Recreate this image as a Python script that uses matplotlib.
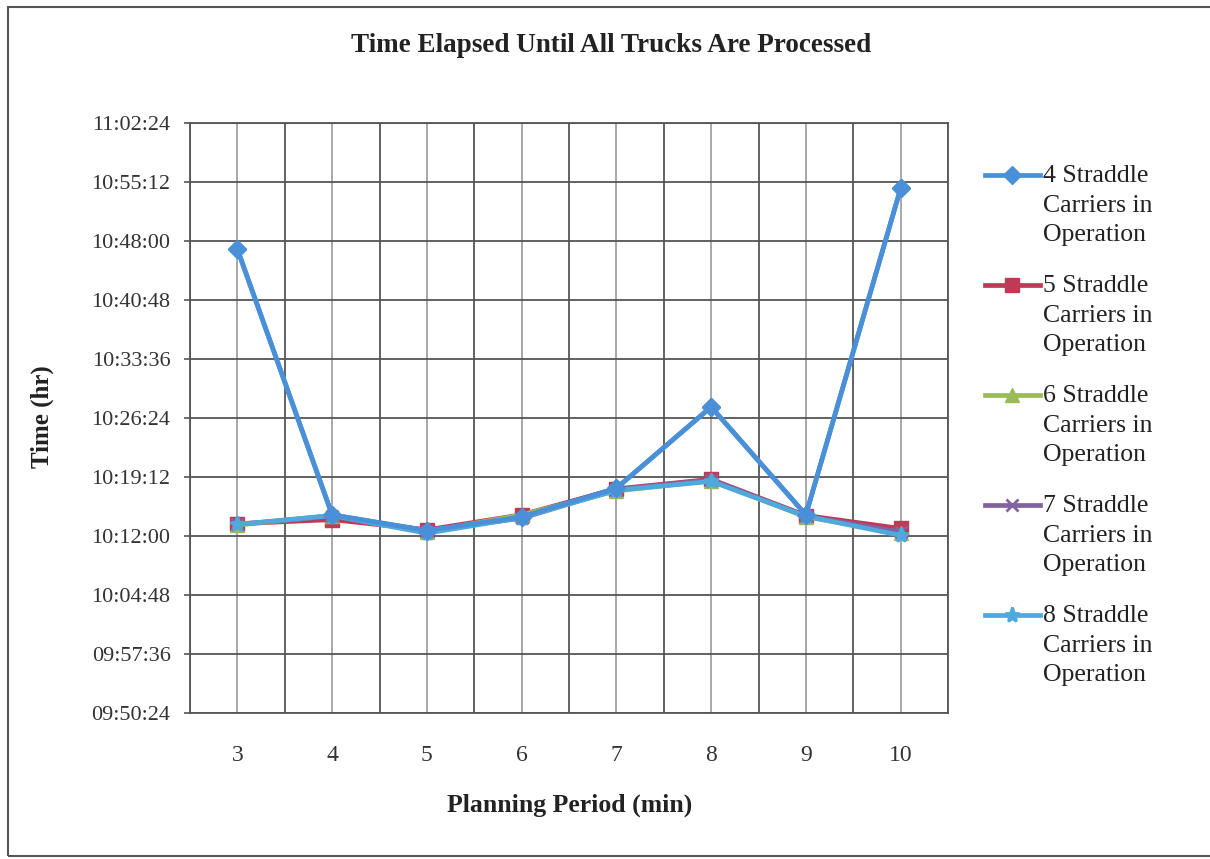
import matplotlib
matplotlib.use("Agg")
import matplotlib.pyplot as plt
from matplotlib.ticker import FixedLocator, FuncFormatter
from matplotlib.patches import Rectangle
from matplotlib.lines import Line2D

plt.rcParams['font.family'] = ['Liberation Serif', 'DejaVu Serif']

# planning period (min) on the x axis
periods = [3, 4, 5, 6, 7, 8, 9, 10]

# finish time of the last truck, per number of straddle carriers
sc4 = ['10:47:00', '10:14:35', '10:12:40', '10:14:20', '10:17:50', '10:27:45', '10:14:35', '10:54:25']
sc5 = ['10:13:30', '10:14:00', '10:12:45', '10:14:35', '10:17:45', '10:18:55', '10:14:30', '10:12:55']
sc6 = ['10:13:20', '10:14:30', '10:12:30', '10:14:35', '10:17:30', '10:18:45', '10:14:20', '10:12:20']
sc7 = ['10:13:25', '10:14:25', '10:12:40', '10:14:10', '10:17:40', '10:18:50', '10:14:25', '10:12:30']
sc8 = ['10:13:25', '10:14:30', '10:12:20', '10:14:15', '10:17:35', '10:18:40', '10:14:25', '10:12:05']

labels = ['4 Straddle\nCarriers in\nOperation', '5 Straddle\nCarriers in\nOperation',
          '6 Straddle\nCarriers in\nOperation', '7 Straddle\nCarriers in\nOperation',
          '8 Straddle\nCarriers in\nOperation']
y_ticks = ['09:50:24', '09:57:36', '10:04:48', '10:12:00', '10:19:12', '10:26:24',
           '10:33:36', '10:40:48', '10:48:00', '10:55:12', '11:02:24']


def to_sec(t):
    h, m, s = t.split(':')
    return int(h) * 3600 + int(m) * 60 + int(s)


def fmt_time(v, pos):
    v = int(round(v))
    return '%02d:%02d:%02d' % (v // 3600, (v % 3600) // 60, v % 60)


W, H = 1210, 859
fig = plt.figure(figsize=(W / 100, H / 100), dpi=100)
fig.patch.set_facecolor('white')
# chart area border
fig.add_artist(Rectangle((8 / W, 3 / H), 1.2, 1 - 10 / H, transform=fig.transFigure,
                         fill=False, edgecolor='#555555', linewidth=1.5))

ax = fig.add_axes([190 / W, 1 - 713 / H, 758 / W, 590 / H])

series = [sc4, sc5, sc6, sc7, sc8]
colors = ['#4A90D9', '#BE3A55', '#9BBB59', '#8064A2', '#4FA9DC']
markers = ['D', 's', '^', 'x', '*']
msizes = [9, 10, 10, 9, 11]
xs = list(range(len(periods)))

styles = []
for vals, c, m, ms in zip(series, colors, markers, msizes):
    st = dict(color=c, marker=m, markersize=ms, linewidth=3.4, markeredgecolor=c,
              markeredgewidth=2 if m in 'x*' else 1)
    styles.append(st)
    ax.plot(xs, [to_sec(v) for v in vals], **st)
# series 4 drawn on top
ax.plot(xs, [to_sec(v) for v in sc4], zorder=5, **styles[0])

ax.set_xlim(-0.5, len(periods) - 0.5)
ax.set_ylim(to_sec(y_ticks[0]), to_sec(y_ticks[-1]))
ax.yaxis.set_major_locator(FixedLocator([to_sec(t) for t in y_ticks]))
ax.yaxis.set_major_formatter(FuncFormatter(fmt_time))
ax.set_xticks(xs)
ax.set_xticklabels([str(p) for p in periods])
ax.set_xticks([x + 0.5 for x in range(-1, len(periods))], minor=True)

ax.grid(True, which='major', axis='y', color='#555555', linewidth=1.3)
ax.grid(True, which='minor', axis='x', color='#555555', linewidth=1.3)
ax.grid(True, which='major', axis='x', color='#999999', linewidth=1.2)
ax.set_axisbelow(True)

for s in ax.spines.values():
    s.set_color('#555555')
    s.set_linewidth(1.3)

ax.tick_params(axis='x', which='major', length=0, labelsize=17, pad=23, labelcolor='#333333')
ax.tick_params(axis='x', which='minor', length=0)
ax.tick_params(axis='y', length=4, labelsize=16, pad=10, color='#555555', width=1.2,
               labelcolor='#333333')

fig.text(611 / W, 1 - 46 / H, 'Time Elapsed Until All Trucks Are Processed', fontsize=19.5,
         fontweight='bold', ha='center', va='center', color='#222222')
fig.text(570 / W, 1 - 805 / H, 'Planning Period (min)', fontsize=18.5, fontweight='bold',
         ha='center', va='center', color='#222222')
fig.text(42 / W, 1 - 417 / H, 'Time (hr)', fontsize=18, fontweight='bold', rotation=90,
         ha='center', va='center', color='#222222')

# legend: key line with marker next to the first line of each label
for i, (lab, st) in enumerate(zip(labels, styles)):
    yc = 1 - (175 + 110 * i) / H
    fig.add_artist(Line2D([985 / W, 1012 / W, 1040 / W], [yc, yc, yc], transform=fig.transFigure,
                          markevery=[1], **st))
    fig.text(1043 / W, yc + 10 / H, lab, fontsize=18.5, ha='left', va='top',
             color='#222222', linespacing=1.45)

fig.savefig('out.png', dpi=100)
